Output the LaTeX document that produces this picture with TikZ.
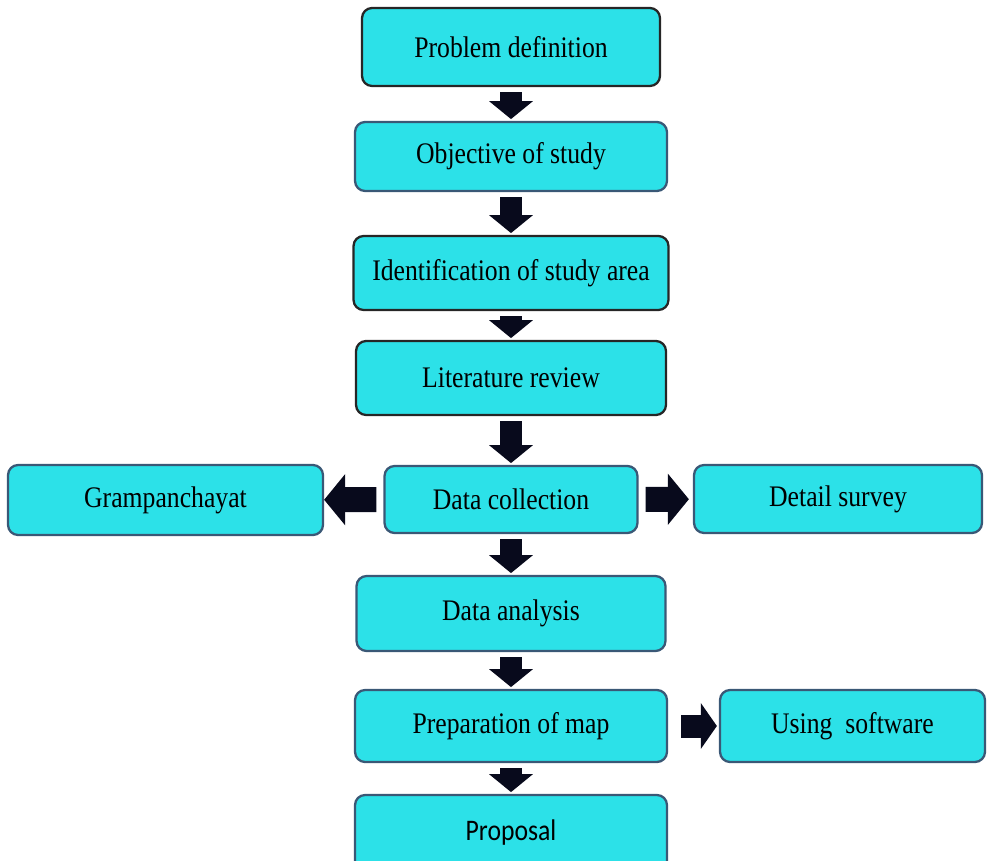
\documentclass[tikz,border=0pt]{standalone}
\usepackage{fontspec}
\setmainfont{Liberation Serif}[FakeStretch=0.86]
\newfontfamily\propfont{Carlito}[FakeStretch=0.86]
\usetikzlibrary{arrows.meta}
\definecolor{boxcyan}{RGB}{44,225,232}
\definecolor{boxedge}{RGB}{58,88,118}
\definecolor{arrowink}{RGB}{8,10,28}
\tikzset{
	stepbox/.style={draw=boxedge, line width=1.3pt, fill=boxcyan, rounded corners=0.2cm,
		inner sep=0pt, font=\fontsize{17}{20}\selectfont},
	darkbox/.style={stepbox, draw=black!85},
	downflow/.style={arrowink, line width=0.44cm, -{Triangle[width=0.86cm,length=0.36cm]},
		shorten <=3pt, shorten >=1pt},
	sideflow/.style={arrowink, line width=0.5cm, -{Triangle[width=1cm,length=0.42cm]}}
}
\begin{document}
\begin{tikzpicture}[x=0.02cm,y=-0.02cm]
	\useasboundingbox (0,0) rectangle (987,861);
	\clip (0,0) rectangle (987,861);
	
	% main column
	\node[darkbox, minimum width=5.96cm, minimum height=1.56cm] (prob) at (511,47) {Problem definition};
	\node[stepbox, minimum width=6.24cm, minimum height=1.38cm] (obj) at (511,156.5) {Objective of study};
	\node[darkbox, minimum width=6.3cm, minimum height=1.48cm] (ident) at (511,273) {Identification of study area};
	\node[darkbox, minimum width=6.2cm, minimum height=1.48cm] (lit) at (511,378) {Literature review};
	\node[stepbox, minimum width=5.06cm, minimum height=1.34cm] (coll) at (511,499.5) {Data collection};
	\node[stepbox, minimum width=6.18cm, minimum height=1.5cm] (anal) at (511,613.5) {Data analysis};
	\node[stepbox, minimum width=6.24cm, minimum height=1.44cm] (prep) at (511,726) {Preparation of map};
	\node[stepbox, minimum width=6.24cm, minimum height=1.52cm, font=\propfont\fontsize{17}{20}\selectfont] (prop) at (511,833) {Proposal};
	
	% side boxes
	\node[stepbox, minimum width=6.3cm, minimum height=1.4cm] (gram) at (165.5,500) {Grampanchayat};
	\node[stepbox, minimum width=5.76cm, minimum height=1.36cm] (detail) at (838,499) {Detail survey};
	\node[stepbox, minimum width=5.3cm, minimum height=1.44cm] (soft) at (852.5,726) {Using\ \ software};
	
	% arrows
	\draw[downflow] (prob) -- (obj);
	\draw[downflow] (obj) -- (ident);
	\draw[downflow] (ident) -- (lit);
	\draw[downflow] (lit) -- (coll);
	\draw[downflow] (coll) -- (anal);
	\draw[downflow] (anal) -- (prep);
	\draw[downflow] (prep) -- (prop);
	\draw[sideflow, shorten <=0.14cm] (coll) -- (gram);
	\draw[sideflow, shorten <=0.14cm, shorten >=0.08cm] (coll) -- (detail);
	\draw[sideflow, line width=0.46cm, -{Triangle[width=0.9cm,length=0.32cm]},
		shorten <=0.26cm, shorten >=0.04cm] (prep) -- (soft);
\end{tikzpicture}
\end{document}
